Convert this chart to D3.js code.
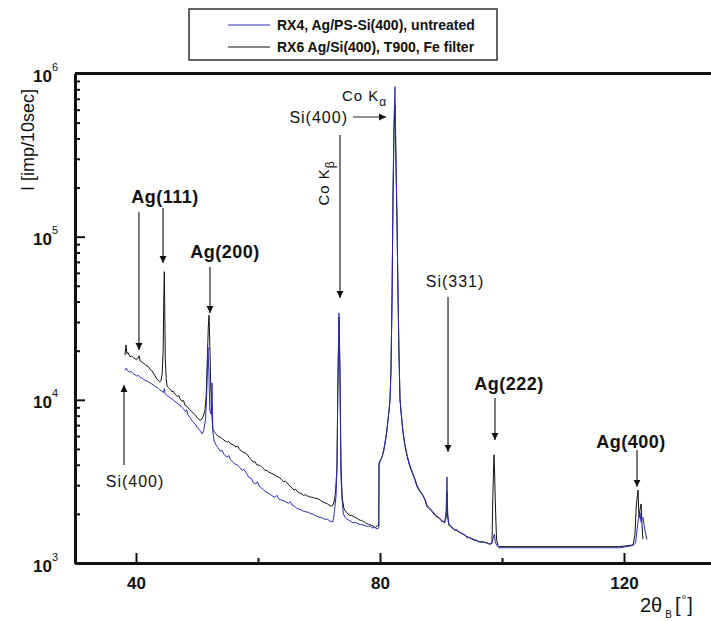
<!DOCTYPE html>
<html>
<head>
<meta charset="utf-8">
<script src="https://cdn.jsdelivr.net/npm/d3@7"></script>
<style>
  body { margin: 0; background: #fff; }
  svg text { font-family: Arial, "Liberation Sans", sans-serif; fill: #111; }
</style>
</head>
<body>
<div id="chart"></div>
<script>
// Data: [2theta (deg), intensity (imp/10sec)]
const xMajorTicks = [40, 80, 120];
const xMinorTicks = [60, 100];
const yMajorTicks = [1e3, 1e4, 1e5, 1e6];

const seriesNames = ["RX4, Ag/PS-Si(400), untreated", "RX6 Ag/Si(400), T900, Fe filter"];

// RX4 (blue)
const rx4Points = [
    [38.2, 15200], [38.4, 15600], [38.6, 15100], [38.9, 14800], [39.2, 14900], [39.5, 14500],
    [39.8, 14300], [40.1, 14000], [40.4, 14100], [40.7, 13700], [41.0, 13600], [41.3, 13300],
    [41.6, 13100], [41.9, 13000], [42.3, 12700], [42.6, 12500], [42.9, 12300], [43.2, 12000],
    [43.5, 11900], [43.9, 11500], [44.2, 11300], [44.5, 11100], [44.65, 11700], [44.8, 10900],
    [45.1, 10600], [45.4, 10500], [45.7, 10200], [46.0, 10100], [46.3, 9800], [46.6, 9700],
    [46.9, 9400], [47.2, 9300], [47.5, 9000], [47.8, 8800], [48.1, 8500], [48.3, 8700],
    [48.5, 8100], [48.85, 7800], [49.1, 7500], [49.4, 7300], [49.7, 7100], [50.0, 6800],
    [50.3, 6600], [50.6, 6400], [50.85, 6200], [51.1, 6500], [51.4, 7600], [51.6, 11000],
    [51.8, 21000], [51.95, 14500], [52.1, 8600], [52.3, 8200], [52.46, 12700], [52.6, 6400],
    [52.8, 5600], [53.1, 5300], [53.4, 5100], [53.8, 4850], [54.1, 4900], [54.4, 4650],
    [54.9, 4450], [55.2, 4550], [55.5, 4300], [55.9, 4150], [56.2, 4050], [56.6, 4000],
    [57.0, 3850], [57.4, 3700], [57.7, 3750], [58.1, 3550], [58.5, 3350], [58.9, 3300],
    [59.2, 3120], [59.6, 3050], [59.9, 3150], [60.2, 2950], [60.6, 2880], [61.0, 2780],
    [61.3, 2720], [61.7, 2680], [62.0, 2640], [62.4, 2570], [62.8, 2530], [63.1, 2600],
    [63.4, 2470], [63.8, 2430], [64.2, 2410], [64.6, 2360], [65.0, 2320], [65.3, 2380],
    [65.6, 2260], [66.0, 2230], [66.3, 2170], [66.7, 2140], [67.0, 2120], [67.4, 2080],
    [67.8, 2060], [68.2, 2050], [68.5, 2020], [68.9, 2000], [69.2, 1970], [69.6, 1940],
    [70.0, 1910], [70.3, 1900], [70.7, 1880], [71.0, 1850], [71.4, 1860], [71.7, 1810],
    [72.0, 1800], [72.3, 1790], [72.55, 2100], [72.8, 2600], [72.95, 3900], [73.1, 14000],
    [73.28, 34000], [73.45, 12000], [73.6, 3400], [73.8, 2400], [74.0, 1990], [74.3, 1900],
    [74.6, 1850], [74.9, 1830], [75.3, 1790], [75.6, 1760], [76.0, 1770], [76.4, 1740],
    [76.8, 1720], [77.2, 1710], [77.6, 1690], [78.0, 1670], [78.4, 1690], [78.7, 1640],
    [79.1, 1650], [79.5, 1620], [79.8, 1640], [79.84, 4000], [80.1, 4250], [80.33, 4450],
    [80.6, 4850], [80.82, 5400], [81.1, 6300], [81.31, 7500], [81.5, 8700], [81.64, 9900],
    [81.8, 15500], [81.97, 42000], [82.13, 180000], [82.3, 520000], [82.46, 830000],
    [82.62, 300000], [82.79, 125000], [82.95, 46000], [83.1, 20500], [83.28, 10200],
    [83.5, 8100], [83.77, 6400], [84.1, 5300], [84.5, 4500], [84.92, 3950], [85.3, 3600],
    [85.7, 3300], [86.07, 3000], [86.5, 2780], [87.0, 2620], [87.4, 2450], [87.7, 2260],
    [88.1, 2180], [88.6, 2080], [89.0, 1990], [89.34, 1930], [89.7, 1900], [90.0, 1840],
    [90.33, 1800], [90.6, 1760], [90.85, 2100], [90.98, 3370], [91.1, 2000], [91.3, 1720],
    [91.48, 1690], [91.8, 1660], [92.2, 1590], [92.6, 1600], [93.11, 1540], [93.5, 1500],
    [94.0, 1480], [94.3, 1420], [94.6, 1440], [95.25, 1400], [95.8, 1380], [96.4, 1340],
    [97.0, 1350], [97.54, 1320], [98.0, 1310], [98.4, 1330], [98.6, 1450], [98.75, 1500],
    [98.9, 1350], [99.1, 1290], [99.5, 1240], [119.3, 1240], [121.5, 1280], [121.9, 1330],
    [122.3, 1800], [122.5, 1920], [122.62, 2030], [122.8, 1780], [122.95, 1860],
    [123.1, 1900], [123.4, 1600], [123.77, 1390]
];

// RX6 (black)
const rx6Points = [
    [38.2, 18800], [38.36, 21700], [38.5, 19200], [38.7, 19500], [39.0, 18400], [39.3, 18500],
    [39.6, 18100], [40.0, 17700], [40.3, 17900], [40.5, 18600], [40.7, 17300], [41.0, 17000],
    [41.3, 16700], [41.6, 16300], [42.0, 16000], [42.3, 15400], [42.6, 15100], [43.0, 14300],
    [43.3, 13600], [43.6, 13200], [43.9, 12900], [44.1, 13100], [44.3, 14500], [44.45, 20000],
    [44.55, 40000], [44.64, 61000], [44.72, 35000], [44.8, 18000], [44.95, 13500],
    [45.1, 12100], [45.3, 11900], [45.6, 11600], [45.9, 11200], [46.1, 11300], [46.4, 10800],
    [46.8, 10500], [47.0, 10600], [47.2, 10200], [47.5, 9800], [47.8, 9900], [48.0, 9300],
    [48.4, 9100], [48.8, 8700], [49.1, 8500], [49.4, 8300], [49.7, 8100], [50.0, 7800],
    [50.3, 7600], [50.5, 7500], [50.8, 7600], [51.0, 7900], [51.3, 8600], [51.5, 10500],
    [51.7, 18000], [51.85, 28000], [51.97, 33000], [52.1, 22000], [52.25, 12500],
    [52.4, 8500], [52.6, 6600], [52.9, 6300], [53.2, 6150], [53.4, 6000], [53.8, 5900],
    [54.2, 5750], [54.6, 5600], [55.0, 5500], [55.2, 5560], [55.4, 5420], [55.9, 5300],
    [56.4, 5150], [56.7, 5200], [57.0, 4950], [57.5, 4800], [58.0, 4700], [58.3, 4600],
    [58.5, 4450], [58.9, 4300], [59.2, 4150], [59.5, 4180], [59.8, 4000], [60.1, 3980],
    [60.4, 3950], [60.7, 3850], [61.1, 3720], [61.5, 3680], [61.8, 3600], [62.1, 3560],
    [62.5, 3500], [62.8, 3450], [63.0, 3400], [63.3, 3370], [63.6, 3320], [63.9, 3230],
    [64.2, 3150], [64.5, 3170], [64.8, 3100], [65.0, 3020], [65.3, 2950], [65.6, 2880],
    [65.9, 2800], [66.2, 2830], [66.4, 2750], [66.7, 2700], [66.9, 2680], [67.2, 2650],
    [67.5, 2600], [67.8, 2620], [68.0, 2580], [68.3, 2560], [68.5, 2540], [68.8, 2530],
    [69.0, 2520], [69.3, 2500], [69.7, 2480], [70.0, 2460], [70.2, 2430], [70.5, 2390],
    [70.8, 2350], [71.1, 2330], [71.4, 2300], [71.7, 2260], [72.0, 2230], [72.3, 2270],
    [72.5, 2400], [72.7, 2700], [72.95, 3900], [73.1, 12000], [73.28, 32000], [73.45, 15000],
    [73.6, 4100], [73.8, 2500], [74.1, 2150], [74.3, 2090], [74.6, 2030], [75.0, 1950],
    [75.3, 1960], [75.6, 1930], [75.9, 1910], [76.2, 1880], [76.5, 1850], [76.8, 1820],
    [77.0, 1830], [77.3, 1790], [77.6, 1770], [77.8, 1740], [78.1, 1730], [78.3, 1720],
    [78.6, 1700], [78.8, 1690], [79.1, 1670], [79.3, 1650], [79.6, 1700], [79.8, 1690],
    [79.84, 4100], [80.1, 4300], [80.33, 4470], [80.6, 4900], [80.82, 5440], [81.1, 6400],
    [81.31, 7530], [81.5, 8800], [81.64, 10000], [81.8, 15000], [81.97, 40000],
    [82.13, 170000], [82.3, 450000], [82.46, 640000], [82.62, 280000], [82.79, 120000],
    [82.95, 45000], [83.1, 20000], [83.28, 10000], [83.5, 8000], [83.77, 6300], [84.1, 5200],
    [84.5, 4400], [84.92, 3880], [85.3, 3550], [85.7, 3250], [86.07, 2930], [86.5, 2750],
    [87.0, 2600], [87.4, 2420], [87.7, 2210], [88.1, 2150], [88.6, 2050], [89.0, 1960],
    [89.34, 1920], [89.7, 1880], [90.0, 1820], [90.33, 1790], [90.6, 1780], [90.85, 1900],
    [90.98, 2700], [91.1, 1900], [91.3, 1700], [91.48, 1710], [91.8, 1640], [92.2, 1600],
    [92.6, 1580], [93.11, 1530], [93.5, 1520], [94.0, 1470], [94.6, 1430], [95.25, 1390],
    [95.8, 1370], [96.4, 1350], [97.0, 1340], [97.54, 1330], [98.0, 1300], [98.36, 1320],
    [98.5, 2600], [98.69, 4600], [98.8, 3500], [98.9, 2400], [99.1, 1400], [99.3, 1290],
    [99.5, 1260], [119.3, 1260], [121.5, 1290], [121.8, 1500], [122.0, 2200], [122.15, 2500],
    [122.3, 2800], [122.45, 1900], [122.6, 2100], [122.8, 2300], [122.95, 1700], [123.1, 1400]
];

const width = 711, height = 621;
const plot = {left: 75, top: 73.5, bottom: 563};

const svg = d3.select("#chart")
    .append("svg")
    .attr("width", width)
    .attr("height", height);

// Scales
const x = d3.scaleLinear().domain([30, 140]).range([plot.left, plot.left + 110 * 6.1]);
const y = d3.scaleLog().domain([1e3, 1e6]).range([plot.bottom, plot.top]);

svg.append("clipPath").attr("id", "clip")
    .append("rect")
    .attr("x", plot.left).attr("y", plot.top)
    .attr("width", width - plot.left).attr("height", plot.bottom - plot.top);

// Lines
const line = d3.line()
    .x(d => x(d[0]))
    .y(d => y(d[1]));

const curves = svg.append("g").attr("clip-path", "url(#clip)");
curves.append("path")
    .attr("d", line(rx6Points))
    .attr("fill", "none")
    .attr("stroke", "#111")
    .attr("stroke-width", 1);
curves.append("path")
    .attr("d", line(rx4Points))
    .attr("fill", "none")
    .attr("stroke", "#2b2bb8")
    .attr("stroke-width", 1);

// Axes
const xAxis = svg.append("g")
    .attr("transform", `translate(0,${plot.bottom})`)
    .call(d3.axisBottom(x).tickValues(xMajorTicks).tickSize(-10).tickSizeOuter(0).tickPadding(14));
const xMinor = svg.append("g")
    .attr("transform", `translate(0,${plot.bottom})`)
    .call(d3.axisBottom(x).tickValues(xMinorTicks).tickSize(-5).tickSizeOuter(0).tickFormat(""));

const yMinorTicks = [];
[1e3, 1e4, 1e5].forEach(dec => { for (let k = 2; k <= 9; k++) yMinorTicks.push(dec * k); });

const yAxis = svg.append("g")
    .attr("transform", `translate(${plot.left},0)`)
    .call(d3.axisLeft(y).tickValues(yMajorTicks).tickSize(-10).tickSizeOuter(0).tickPadding(17).tickFormat(""));
const yMinor = svg.append("g")
    .attr("transform", `translate(${plot.left},0)`)
    .call(d3.axisLeft(y).tickValues(yMinorTicks).tickSize(-5).tickSizeOuter(0).tickFormat(""));

[xAxis, xMinor, yAxis, yMinor].forEach(g => {
    g.select(".domain").attr("stroke", "#111").attr("stroke-width", 3);
    g.selectAll(".tick line").attr("stroke", "#111").attr("stroke-width", 2);
});

xAxis.selectAll(".tick text")
    .attr("font-size", "17px")
    .attr("font-weight", "bold")
    .attr("fill", "#111");

// y tick labels as 10^n
yAxis.selectAll(".tick").each(function(d) {
    const t = d3.select(this).select("text")
        .attr("x", -17)
        .attr("dy", null)
        .attr("y", 8)
        .attr("text-anchor", "end")
        .attr("font-size", "17px")
        .attr("font-weight", "bold")
        .attr("fill", "#111");
    t.append("tspan").text("10");
    t.append("tspan")
        .attr("dy", -11)
        .attr("font-size", "11px")
        .attr("font-weight", "normal")
        .text(Math.round(Math.log10(d)));
});

// top frame line
svg.append("line")
    .attr("x1", plot.left).attr("x2", width)
    .attr("y1", plot.top).attr("y2", plot.top)
    .attr("stroke", "#111")
    .attr("stroke-width", 3);

// Axis titles
svg.append("text")
    .attr("transform", `translate(34,140) rotate(-90)`)
    .attr("text-anchor", "middle")
    .attr("font-size", "18px")
    .text("I [imp/10sec]");

const xTitle = svg.append("text")
    .attr("x", 640)
    .attr("y", 612)
    .attr("font-size", "20px");
xTitle.append("tspan").text("2θ");
xTitle.append("tspan").attr("dy", 6).attr("dx", 3).attr("font-size", "10px").text("B");
xTitle.append("tspan").attr("dy", -6).attr("dx", 3).text("[");
xTitle.append("tspan").attr("dy", -8).attr("dx", 1).attr("font-size", "12px").text("°");
xTitle.append("tspan").attr("dy", 8).attr("dx", 1).text("]");

// Peak annotations
svg.append("defs").append("marker")
    .attr("id", "head")
    .attr("viewBox", "0 0 10 10")
    .attr("refX", 10).attr("refY", 5)
    .attr("markerWidth", 7).attr("markerHeight", 10)
    .attr("markerUnits", "userSpaceOnUse")
    .attr("orient", "auto")
    .append("path")
    .attr("d", "M0,0 L10,5 L0,10 z")
    .attr("fill", "#111");

const arrows = [
    [40.49, 141700, 40.49, 20200],
    [44.43, 149900, 44.43, 69000],
    [52.13, 65200, 52.13, 34100],
    [38.03, 3990, 38.03, 12340],
    [73.44, 420000, 73.44, 42100],
    [75.57, 541400, 80.98, 541400],
    [91.15, 42700, 91.15, 4800],
    [98.85, 10270, 98.85, 5680],
    [122.13, 4930, 122.13, 2930]
];
arrows.forEach(a => {
    svg.append("line")
        .attr("x1", x(a[0])).attr("y1", y(a[1]))
        .attr("x2", x(a[2])).attr("y2", y(a[3]))
        .attr("stroke", "#222")
        .attr("stroke-width", 1.2)
        .attr("marker-end", "url(#head)");
});

const labels = [
    {text: "Ag(111)", bold: true, at: [44.75, 160900], anchor: "middle"},
    {text: "Ag(200)", bold: true, at: [54.59, 74050], anchor: "middle"},
    {text: "Si(400)", bold: false, at: [39.84, 2930], anchor: "middle"},
    {text: "Si(400)", bold: false, at: [74.75, 497000], anchor: "end"},
    {text: "Si(331)", bold: false, at: [92.3, 49200], anchor: "middle"},
    {text: "Ag(222)", bold: true, at: [101.15, 11500], anchor: "middle"},
    {text: "Ag(400)", bold: true, at: [121.15, 5073], anchor: "middle"}
];
labels.forEach(l => {
    svg.append("text")
        .attr("x", x(l.at[0]))
        .attr("y", y(l.at[1]))
        .attr("text-anchor", l.anchor)
        .attr("font-size", l.bold ? "18px" : "16px")
        .attr("font-weight", l.bold ? "bold" : "normal")
        .attr("letter-spacing", l.bold ? "0.5px" : "1px")
        .text(l.text);
});

// Co K alpha
const kAlpha = svg.append("text")
    .attr("x", x(73.77))
    .attr("y", y(678500))
    .attr("font-size", "15px")
    .attr("letter-spacing", "1px");
kAlpha.append("tspan").text("Co K");
kAlpha.append("tspan").attr("dy", 5).attr("font-size", "12px").text("α");

// Co K beta (vertical)
const kBeta = svg.append("text")
    .attr("transform", `translate(${x(70.66) + 6},${y(213300)}) rotate(-90)`)
    .attr("text-anchor", "middle")
    .attr("font-size", "15px")
    .attr("letter-spacing", "1px");
kBeta.append("tspan").text("Co K");
kBeta.append("tspan").attr("dy", 5).attr("font-size", "12px").text("β");

// Legend
const legend = svg.append("g");
legend.append("rect")
    .attr("x", 189).attr("y", 9)
    .attr("width", 308).attr("height", 51)
    .attr("fill", "#fff")
    .attr("stroke", "#333")
    .attr("stroke-width", 1.5);

const legendColors = ["#2b2bb8", "#111"];
seriesNames.forEach((name, i) => {
    const row = legend.append("g").attr("transform", `translate(0,${25 + i * 22})`);
    row.append("line")
        .attr("x1", 228).attr("x2", 270)
        .attr("stroke", legendColors[i])
        .attr("stroke-width", 1.2);
    row.append("text")
        .attr("x", 277).attr("y", 5)
        .attr("font-size", "14px")
        .attr("font-weight", "bold")
        .text(name);
});
</script>
</body>
</html>
